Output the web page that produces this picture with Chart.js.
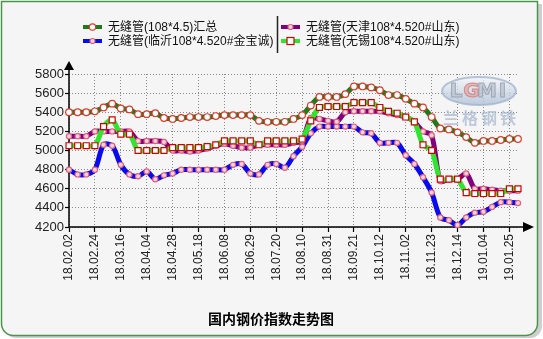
<!DOCTYPE html>
<html>
<head>
<meta charset="utf-8">
<script src="https://cdn.jsdelivr.net/npm/chart.js@4.4.1/dist/chart.umd.min.js"></script>
<style>
  html, body { margin: 0; padding: 0; background: #fff; }
  canvas { display: block; }
</style>
</head>
<body>
<canvas id="chart" width="543" height="339"></canvas>
<script>
/* ===== data (weekly, a label every 3rd week) ===== */
const tickLabels = [
  "18.02.02", "18.02.24", "18.03.16", "18.04.04", "18.04.28", "18.05.18",
  "18.06.08", "18.06.29", "18.07.20", "18.08.10", "18.08.31", "18.09.21",
  "18.10.12", "18.11.02", "18.11.23", "18.12.14", "19.01.04", "19.01.25"
];

const seriesNames = [
  "无缝管(108*4.5)汇总",
  "无缝管(天津108*4.520#山东)",
  "无缝管(临沂108*4.520#金宝诚)",
  "无缝管(无锡108*4.520#山东)"
];

const totalValues = [
  5400, 5400, 5400, 5410, 5450, 5490, 5440, 5430, 5380, 5380,
  5390, 5340, 5330, 5340, 5350, 5350, 5350, 5360, 5370, 5370,
  5370, 5370, 5310, 5300, 5300, 5300, 5330, 5370, 5470, 5560,
  5560, 5560, 5590, 5670, 5670, 5660, 5630, 5580, 5580, 5540,
  5490, 5450, 5350, 5230, 5220, 5190, 5140, 5080, 5100, 5100,
  5110, 5120, 5120
];

const tianjinValues = [
  5150, 5150, 5150, 5200, 5200, 5200, 5200, 5200, 5100, 5100,
  5100, 5090, 5000, 5000, 4990, 5000, 5020, 5050, 5070, 5050,
  5030, 5030, 5060, 5060, 5060, 5060, 5080, 5100, 5340, 5330,
  5310, 5300, 5400, 5410, 5410, 5410, 5410, 5390, 5370, 5350,
  5300, 5200, 5160, 4680, 4700, 4700, 4760, 4600, 4600, 4590,
  4580, 4580, 4580
];

const linyiValues = [
  4800, 4750, 4750, 4800, 5060, 5050, 4850, 4750, 4730, 4780,
  4700, 4740, 4760, 4800, 4800, 4800, 4800, 4800, 4800, 4850,
  4860, 4760, 4750, 4850, 4860, 4820, 4940, 5040, 5180, 5250,
  5250, 5250, 5250, 5250, 5190, 5180, 5080, 5080, 5080, 4950,
  4860, 4720, 4560, 4300, 4270, 4220, 4300, 4350, 4360, 4410,
  4460, 4460, 4450
];

const wuxiValues = [
  5050, 5050, 5050, 5050, 5250, 5320, 5170, 5170, 5000, 5000,
  5000, 5000, 5030, 5030, 5030, 5030, 5040, 5060, 5100, 5100,
  5100, 5100, 5060, 5100, 5100, 5100, 5100, 5120, 5310, 5450,
  5460, 5460, 5460, 5500, 5500, 5500, 5450, 5410, 5390, 5350,
  5300, 5060, 5000, 4700, 4700, 4700, 4560, 4550, 4550, 4550,
  4550, 4600, 4600
];

const Y_MIN = 4200, Y_MAX = 5800, Y_STEP = 200;
const TITLE = "国内钢价指数走势图";

// one category per week, only every 3rd one carries a date
const categories = totalValues.map((v, i) => (i % 3 === 0 && tickLabels[i / 3]) ? tickLabels[i / 3] : "");

const FONT = '"Liberation Sans", Arial, "Noto Sans CJK SC", sans-serif';


/* =====================================================
   HELPERS
===================================================== */
function drawMarker(ctx, style, x, y) {
  ctx.save();
  ctx.lineWidth = 1.2;
  if (style === "square") {
    ctx.fillStyle = "#fff";
    ctx.strokeStyle = "#d40000";
    ctx.fillRect(x - 3.5, y - 3.5, 7, 7);
    ctx.strokeRect(x - 3.5, y - 3.5, 7, 7);
  } else {
    const r = style === "big" ? 3.2 : 2.5;
    ctx.beginPath();
    ctx.arc(x, y, r, 0, Math.PI * 2);
    ctx.fillStyle = style === "big" ? "#fff" : "#fbd3dc";
    ctx.strokeStyle = style === "big" ? "#e03a2a" : "#e0607e";
    ctx.fill();
    ctx.stroke();
  }
  ctx.restore();
}


/* =====================================================
   PLUGIN: frame, logo, axes, legend, title
===================================================== */
const decor = {
  id: "decor",

  beforeDraw(chart) {
    const ctx = chart.ctx;
    ctx.save();
    ctx.fillStyle = "#fff";
    ctx.fillRect(0, 0, chart.width, chart.height);

    // soft shadow
    ctx.fillStyle = "#cfcfcf";
    ctx.beginPath();
    ctx.roundRect(4, 4, 538, 334, [0, 0, 12, 12]);
    ctx.fill();

    ctx.fillStyle = "#f5f5f5";
    ctx.strokeStyle = "#4c944c";
    ctx.lineWidth = 1.5;
    ctx.beginPath();
    ctx.roundRect(1.5, 1.5, 536, 334, [0, 0, 12, 12]);
    ctx.fill();
    ctx.stroke();
    ctx.restore();
  },

  beforeDatasetsDraw(chart) {
    const ctx = chart.ctx;
    const area = chart.chartArea;

    // watermark logo
    ctx.save();
    ctx.globalAlpha = 0.75;
    const g = ctx.createLinearGradient(0, 77, 0, 105);
    g.addColorStop(0, "#f4f7fb");
    g.addColorStop(1, "#a9bcd4");
    ctx.beginPath();
    ctx.ellipse(479, 91, 37, 14, 0, 0, Math.PI * 2);
    ctx.fillStyle = g;
    ctx.fill();
    ctx.lineWidth = 2;
    ctx.strokeStyle = "#9fb2cc";
    ctx.stroke();
    ctx.font = 'bold 20px "DejaVu Sans", sans-serif';
    ctx.textAlign = "center";
    ctx.textBaseline = "middle";
    ctx.lineWidth = 1;
    ["L", "G", "M", "I"].forEach((c, i) => {
      ctx.fillStyle = c === "G" ? "#e4a4a4" : "#bcc4d0";
      ctx.strokeStyle = c === "G" ? "#c77878" : "#8d97a8";
      ctx.fillText(c, 456 + i * 15.5, 92);
      ctx.strokeText(c, 456 + i * 15.5, 92);
    });
    ctx.font = 'bold 16px "Noto Sans CJK SC", sans-serif';
    ctx.fillStyle = "#a8b8cf";
    ["兰", "格", "钢", "铁"].forEach((c, i) => ctx.fillText(c, 451 + i * 19, 118));
    ctx.restore();

    // axes with arrows
    ctx.save();
    ctx.strokeStyle = "#000";
    ctx.fillStyle = "#000";
    ctx.lineWidth = 1.5;
    ctx.beginPath();
    ctx.moveTo(area.left, area.bottom);
    ctx.lineTo(area.left, area.top - 6);
    ctx.moveTo(area.left, area.bottom);
    ctx.lineTo(area.right + 6, area.bottom);
    ctx.stroke();
    ctx.beginPath();
    ctx.moveTo(area.left, area.top - 13);
    ctx.lineTo(area.left - 5, area.top - 4);
    ctx.lineTo(area.left + 5, area.top - 4);
    ctx.closePath();
    ctx.fill();
    ctx.beginPath();
    ctx.moveTo(area.right + 16, area.bottom);
    ctx.lineTo(area.right + 5, area.bottom - 5);
    ctx.lineTo(area.right + 5, area.bottom + 5);
    ctx.closePath();
    ctx.fill();
    ctx.restore();
  },

  afterDraw(chart) {
    const ctx = chart.ctx;
    const sets = chart.data.datasets;
    const slots = [[83, 27], [281, 27], [83, 41], [281, 41]];

    ctx.save();
    sets.forEach((ds, i) => {
      const [x, y] = slots[i];
      ctx.strokeStyle = ds.borderColor;
      ctx.lineWidth = 4;
      ctx.beginPath();
      ctx.moveTo(x, y);
      ctx.lineTo(x + 19, y);
      ctx.stroke();
      drawMarker(ctx, ds.markerKind, x + 9.5, y);
      ctx.fillStyle = "#111";
      ctx.font = "12px " + FONT;
      ctx.textBaseline = "middle";
      ctx.fillText(ds.label, x + 25, y + 1);
    });

    // column separator
    ctx.strokeStyle = "#222";
    ctx.lineWidth = 1.5;
    ctx.beginPath();
    ctx.moveTo(277.5, 16);
    ctx.lineTo(277.5, 53);
    ctx.stroke();

    // title
    ctx.fillStyle = "#000";
    ctx.font = 'bold 14px "Noto Sans CJK SC", sans-serif';
    ctx.textAlign = "center";
    ctx.textBaseline = "middle";
    ctx.fillText(TITLE, 271, 319);
    ctx.restore();
  }
};


/* =====================================================
   CHART
===================================================== */
function series(label, values, color, kind, order) {
  const big = kind === "big", sq = kind === "square";
  return {
    label: label,
    data: values,
    borderColor: color,
    borderWidth: 5,
    tension: 0.3,
    order: order,
    clip: false,
    markerKind: kind,
    pointStyle: sq ? "rect" : "circle",
    pointRadius: sq ? 4.2 : (big ? 3.3 : 2.6),
    pointBackgroundColor: sq || big ? "#fff" : "#fbd3dc",
    pointBorderColor: sq ? "#d40000" : (big ? "#e03a2a" : "#e0607e"),
    pointBorderWidth: 1.2
  };
}

new Chart(document.getElementById("chart"), {
  type: "line",
  data: {
    labels: categories,
    datasets: [
      series(seriesNames[0], totalValues, "#1d7a1d", "big", 0),
      series(seriesNames[1], tianjinValues, "#800080", "small", 2),
      series(seriesNames[2], linyiValues, "#0a0aee", "small", 3),
      series(seriesNames[3], wuxiValues, "#2ee62e", "square", 1)
    ]
  },
  options: {
    responsive: false,
    animation: false,
    layout: { padding: { top: 74, right: 25, left: 0, bottom: 0 } },
    plugins: {
      legend: { display: false },
      tooltip: { enabled: false }
    },
    scales: {
      x: {
        type: "category",
        afterFit: s => { s.height = 112; },
        border: { display: false, dash: [1, 2] },
        grid: {
          color: c => c.index % 3 === 0 ? "#8a8a8a" : "rgba(0,0,0,0)",
          tickColor: c => c.index % 3 === 0 ? "#000" : "rgba(0,0,0,0)",
          tickLength: 5,
          tickWidth: 1.2
        },
        ticks: {
          autoSkip: false,
          minRotation: 90,
          maxRotation: 90,
          padding: 2,
          color: "#222",
          font: { family: FONT, size: 12 }
        }
      },
      y: {
        min: Y_MIN,
        max: Y_MAX,
        afterFit: s => { s.width = 69; },
        border: { display: false, dash: [1, 2] },
        grid: {
          color: "#8a8a8a",
          tickColor: "#000",
          tickLength: 4,
          tickWidth: 1.2
        },
        ticks: {
          stepSize: Y_STEP,
          padding: 1,
          color: "#222",
          font: { family: FONT, size: 13 },
          callback: v => String(v)
        }
      }
    }
  },
  plugins: [decor]
});
</script>
</body>
</html>
